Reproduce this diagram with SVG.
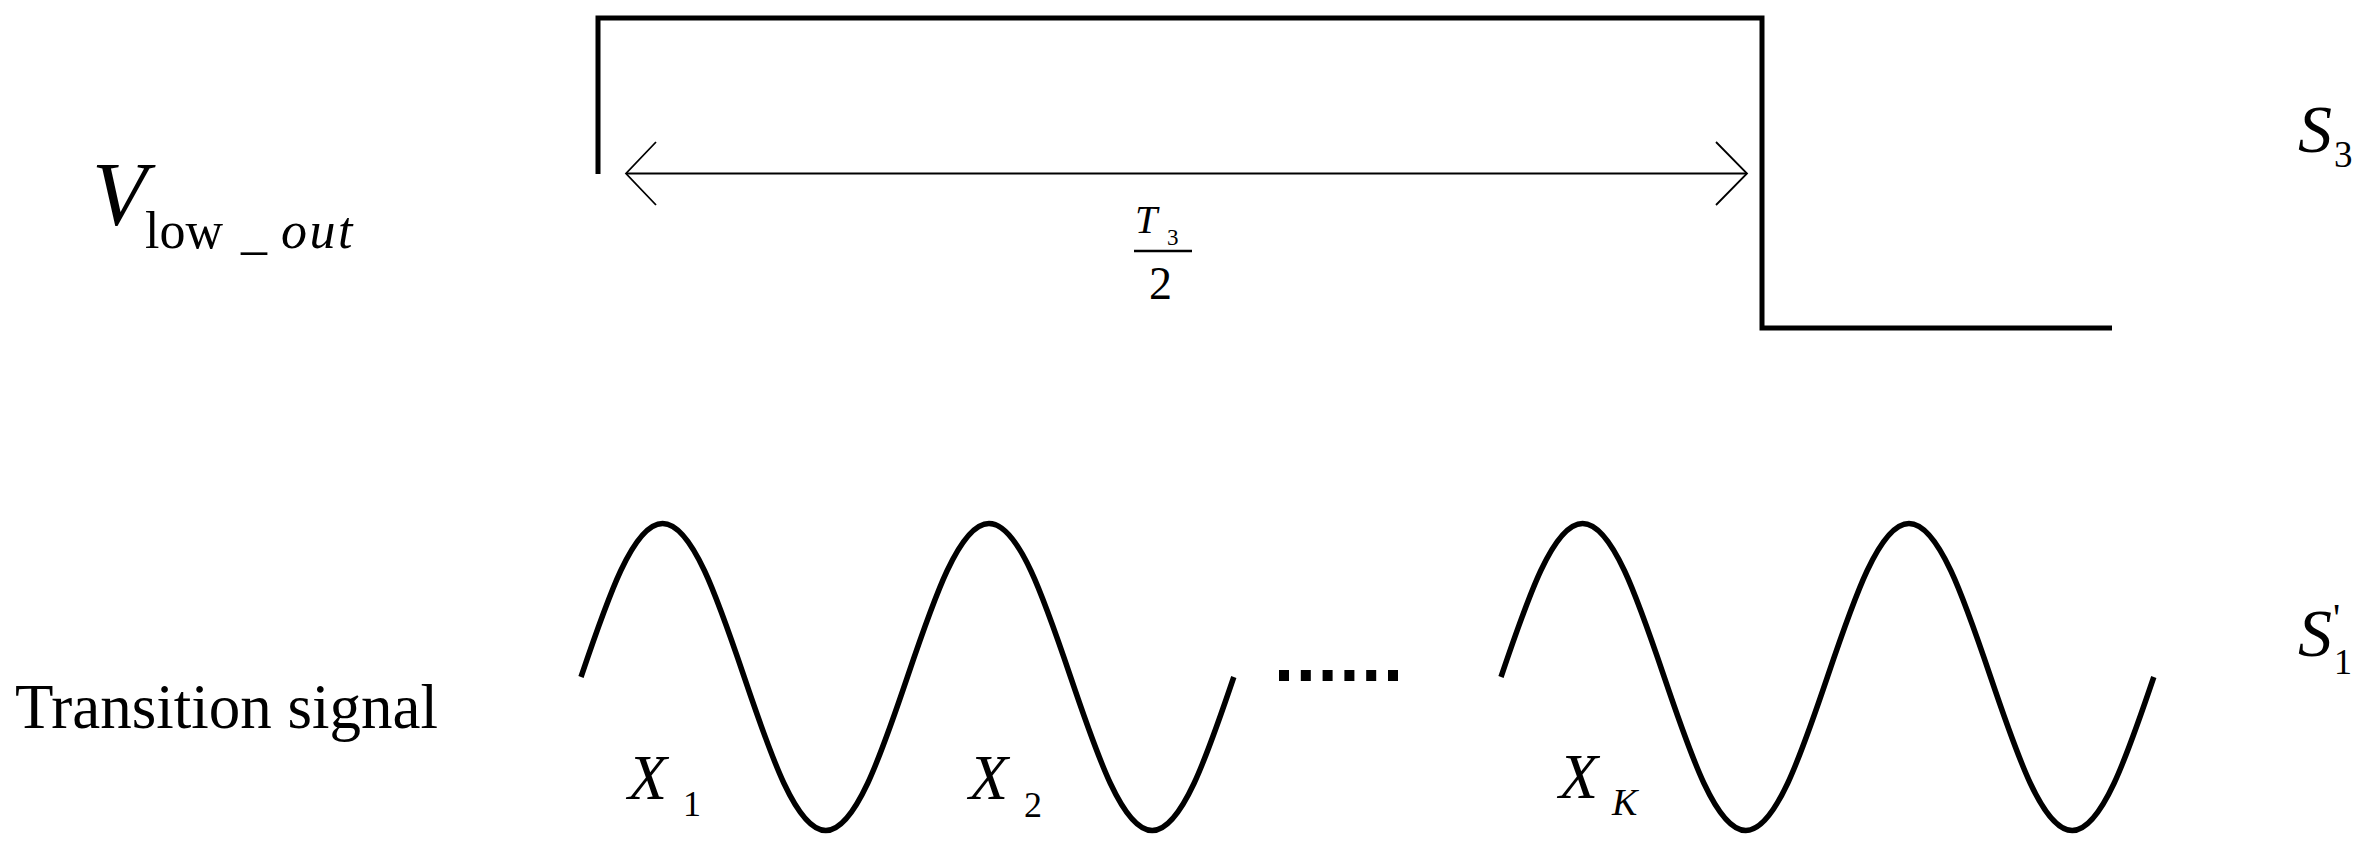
<svg xmlns="http://www.w3.org/2000/svg" width="2368" height="860" viewBox="0 0 2368 860">
<style>
  text { font-family: "Liberation Serif", "Times New Roman", serif; fill: #000; }
  .it { font-style: italic; }
  .thick { fill: none; stroke: #000; stroke-width: 5; }
  .wave { fill: none; stroke: #000; stroke-width: 5.5; stroke-linecap: butt; }
  .thin { fill: none; stroke: #000; stroke-width: 1.8; }
</style>
<rect width="2368" height="860" fill="#fff"/>

<g id="square-wave">
  <polyline class="thick" points="598,174 598,18 1762,18 1762,328 2112,328" stroke-linejoin="miter"/>
</g>

<g id="connectors">
  <line class="thin" x1="626" y1="173.5" x2="1747" y2="173.5"/>
  <polyline class="thin" points="656,142 626,173.5 656,205"/>
  <polyline class="thin" points="1716,142 1747,173.5 1716,205"/>
</g>

<g id="wave-1">
  <path class="wave" d="M 581,677 c 26.6,-78.6 52.1,-153.5 81.6,-153.5 s 55,74.9 81.6,153.5 s 52.1,153.5 81.6,153.5 s 55,-74.9 81.6,-153.5 s 52.1,-153.5 81.6,-153.5 s 55,74.9 81.6,153.5 s 52.1,153.5 81.6,153.5 s 55,-74.9 81.6,-153.5"/>
</g>

<g id="ellipsis">
  <line x1="1279" y1="675.5" x2="1398" y2="675.5" stroke="#000" stroke-width="11" stroke-dasharray="10 11.8"/>
</g>

<g id="wave-2">
  <path class="wave" d="M 1501,677 c 26.6,-78.6 52.1,-153.5 81.6,-153.5 s 55,74.9 81.6,153.5 s 52.1,153.5 81.6,153.5 s 55,-74.9 81.6,-153.5 s 52.1,-153.5 81.6,-153.5 s 55,74.9 81.6,153.5 s 52.1,153.5 81.6,153.5 s 55,-74.9 81.6,-153.5"/>
</g>

<g id="label-vlowout">
  <text class="it" x="92" y="225" font-size="90">V</text>
  <text x="145" y="248" font-size="52">low</text>
  <text x="241" y="248" font-size="52">_</text>
  <text class="it" x="281" y="248" font-size="52" letter-spacing="2.5">out</text>
</g>

<g id="label-t3-half">
  <text class="it" x="1135" y="233" font-size="40">T</text>
  <text x="1167" y="245" font-size="23">3</text>
  <line x1="1134" y1="251" x2="1192" y2="251" stroke="#000" stroke-width="2.7"/>
  <text x="1149" y="299" font-size="46">2</text>
</g>

<g id="label-s3">
  <text class="it" x="2298" y="152" font-size="68">S</text>
  <text x="2334" y="167" font-size="37">3</text>
</g>

<g id="label-s1prime">
  <text class="it" x="2298" y="656" font-size="68">S</text>
  <text x="2334" y="674" font-size="36">1</text>
  <text x="2333" y="631" font-size="40">'</text>
</g>

<g id="label-transition">
  <text x="15" y="728" font-size="63">Transition signal</text>
</g>

<g id="label-x1">
  <text class="it" x="628" y="799" font-size="64">X</text>
  <text x="683" y="816" font-size="36">1</text>
</g>

<g id="label-x2">
  <text class="it" x="969" y="799" font-size="64">X</text>
  <text x="1024" y="817" font-size="36">2</text>
</g>

<g id="label-xk">
  <text class="it" x="1559" y="798" font-size="64">X</text>
  <text class="it" x="1612" y="815" font-size="38">K</text>
</g>
</svg>
